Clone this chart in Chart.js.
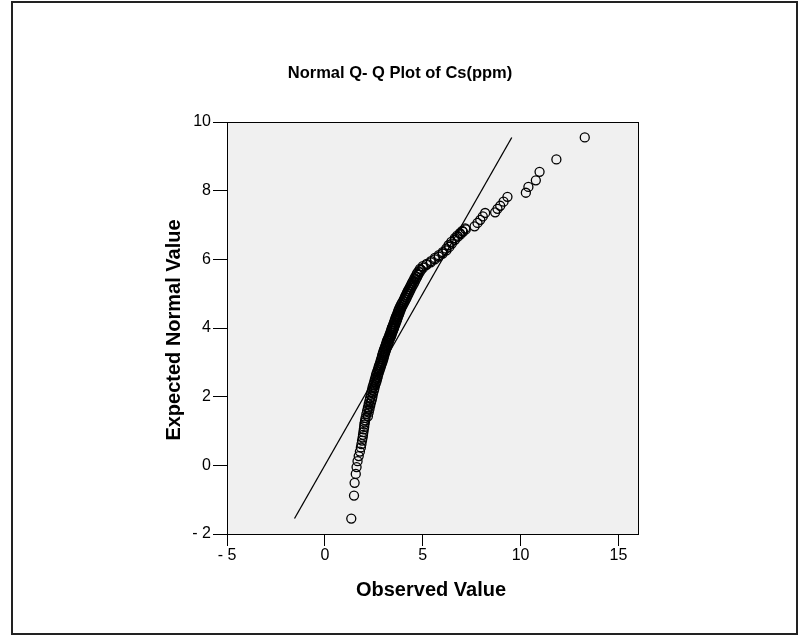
<!DOCTYPE html>
<html>
<head>
<meta charset="utf-8">
<title>Normal Q-Q Plot of Cs(ppm)</title>
<script src="https://cdn.jsdelivr.net/npm/chart.js@4.4.1/dist/chart.umd.min.js"></script>
<style>
  html, body { margin: 0; padding: 0; background: #fff; }
  #wrap { position: relative; width: 805px; height: 640px; }
</style>
</head>
<body>
<div id="wrap"><canvas id="qqChart" width="805" height="640"></canvas></div>
<script>
// Lower tail (sparse circles below the band)
const expectedLow = [-1.55, -0.88, -0.51, -0.25, -0.05, 0.12, 0.27, 0.40, 0.52, 0.62, 0.72, 0.81, 0.89, 0.97, 1.05, 1.12, 1.19, 1.25, 1.31];
const observedLow = [1.35, 1.49, 1.52, 1.58, 1.62, 1.67, 1.73, 1.79, 1.84, 1.87, 1.90, 1.93, 1.95, 1.97, 1.99, 2.01, 2.02, 2.04, 2.06];

// Dense band in the middle (left edge of the band)
const expectedBand = [1.38, 1.49, 1.59, 1.69, 1.79, 1.88, 1.96, 2.05, 2.13, 2.20, 2.28, 2.35, 2.42, 2.49, 2.55, 2.62, 2.68, 2.74, 2.80, 2.87,
  2.92, 2.98, 3.04, 3.09, 3.15, 3.20, 3.26, 3.31, 3.37, 3.42, 3.47, 3.52, 3.58, 3.63, 3.68, 3.73, 3.78, 3.83, 3.89, 3.94, 3.99,
  4.01, 4.06, 4.11, 4.17, 4.22, 4.27, 4.32, 4.37, 4.42, 4.48, 4.53, 4.58, 4.63, 4.69, 4.74, 4.80, 4.85, 4.91, 4.96, 5.02,
  5.08, 5.13, 5.20, 5.26, 5.32, 5.38, 5.45, 5.51, 5.58, 5.65, 5.72, 5.80, 5.87, 5.95, 6.04, 6.12, 6.21, 6.31, 6.41, 6.51,
  6.62, 6.69, 6.76, 6.83, 6.90];
const observedBand = [2.08, 2.12, 2.16, 2.20, 2.24, 2.28, 2.31, 2.34, 2.38, 2.41, 2.44, 2.48, 2.52, 2.55, 2.58, 2.61, 2.64, 2.68, 2.72, 2.75,
  2.78, 2.82, 2.85, 2.88, 2.91, 2.93, 2.96, 2.99, 3.02, 3.06, 3.09, 3.12, 3.15, 3.18, 3.22, 3.26, 3.29, 3.32, 3.36, 3.39, 3.42,
  3.43, 3.47, 3.50, 3.54, 3.57, 3.60, 3.63, 3.67, 3.70, 3.74, 3.77, 3.81, 3.85, 3.90, 3.95, 4.01, 4.05, 4.10, 4.14, 4.19,
  4.24, 4.29, 4.35, 4.41, 4.46, 4.52, 4.58, 4.64, 4.70, 4.78, 4.86, 5.00, 5.20, 5.42, 5.62, 5.82, 6.02, 6.20, 6.32, 6.46,
  6.64, 6.76, 6.90, 7.02, 7.17];

// Dense band, in-between cases (right edge of the band)
const expectedBand2 = [1.43, 1.54, 1.64, 1.74, 1.84, 1.92, 2.00, 2.09, 2.17, 2.24, 2.32, 2.38, 2.45, 2.52, 2.58, 2.65, 2.71, 2.77, 2.84, 2.90,
  2.95, 3.01, 3.07, 3.12, 3.18, 3.23, 3.29, 3.34, 3.40, 3.45, 3.50, 3.55, 3.61, 3.66, 3.71, 3.76, 3.81, 3.86, 3.92, 3.97,
  4.00, 4.04, 4.09, 4.14, 4.20, 4.25, 4.30, 4.35, 4.40, 4.45, 4.51, 4.56, 4.61, 4.66, 4.72, 4.77, 4.83, 4.88, 4.94, 4.99,
  5.05, 5.11, 5.17, 5.23, 5.29, 5.35, 5.42, 5.48, 5.55, 5.62, 5.69, 5.76, 5.84, 5.91, 6.00, 6.08, 6.17, 6.26, 6.36, 6.46,
  6.57, 6.66, 6.73, 6.80, 6.87];
const observedBand2 = [2.20, 2.24, 2.28, 2.32, 2.36, 2.40, 2.43, 2.46, 2.50, 2.53, 2.56, 2.60, 2.64, 2.67, 2.70, 2.73, 2.76, 2.80, 2.84, 2.87,
  2.90, 2.94, 2.97, 3.00, 3.02, 3.05, 3.08, 3.11, 3.14, 3.18, 3.21, 3.24, 3.27, 3.30, 3.34, 3.38, 3.41, 3.44, 3.48, 3.51,
  3.53, 3.55, 3.59, 3.62, 3.66, 3.69, 3.72, 3.75, 3.79, 3.82, 3.86, 3.89, 3.93, 3.98, 4.03, 4.08, 4.13, 4.18, 4.22, 4.27,
  4.32, 4.37, 4.42, 4.48, 4.54, 4.59, 4.65, 4.71, 4.77, 4.84, 4.92, 5.03, 5.20, 5.41, 5.62, 5.82, 6.02, 6.21, 6.36, 6.49,
  6.65, 6.80, 6.93, 7.06, 7.20];

// Upper tail (the long right-hand stragglers)
const expectedHigh = [6.96, 7.06, 7.15, 7.25, 7.35, 7.37, 7.47, 7.56, 7.68, 7.82, 7.94, 8.11, 8.30, 8.55, 8.91, 9.55];
const observedHigh = [7.65, 7.80, 7.94, 8.07, 8.19, 8.70, 8.82, 8.96, 9.13, 9.33, 10.27, 10.40, 10.78, 10.97, 11.83, 13.28];

// Reference line y = x between the smallest and largest expected value
const refLine = [-1.55, 9.55];

const xRange = [-5, 16];
const yRange = [-2, 10];

const FONT = '"Liberation Sans", Arial, Helvetica, sans-serif';

function pairUp(xs, ys) {
  return xs.map((x, i) => ({ x: x, y: ys[i] }));
}

const points = [].concat(
  pairUp(observedLow, expectedLow),
  pairUp(observedBand, expectedBand),
  pairUp(observedBand2, expectedBand2),
  pairUp(observedHigh, expectedHigh)
);

// negative ticks are written "- 5", like the old SPSS output
function tickText(v) {
  return v < 0 ? '- ' + Math.abs(v) : String(v);
}

const framePlugin = {
  id: 'qqFrame',
  beforeDraw(chart) {
    const ctx = chart.ctx;
    const a = chart.chartArea;
    ctx.save();
    ctx.fillStyle = '#ffffff';
    ctx.fillRect(0, 0, chart.width, chart.height);
    ctx.fillStyle = '#f0f0f0';
    ctx.fillRect(a.left, a.top, a.right - a.left, a.bottom - a.top);
    ctx.restore();
  },
  afterDraw(chart) {
    const ctx = chart.ctx;
    const a = chart.chartArea;
    ctx.save();
    // plot box
    ctx.strokeStyle = '#000';
    ctx.lineWidth = 1;
    ctx.strokeRect(a.left + 0.5, a.top + 0.5, a.right - a.left, a.bottom - a.top);
    // outer frame
    ctx.strokeStyle = '#222';
    ctx.lineWidth = 2;
    ctx.strokeRect(12, 2, 785, 632);

    ctx.fillStyle = '#000';
    ctx.textAlign = 'center';
    ctx.textBaseline = 'alphabetic';
    ctx.font = 'bold 16.5px ' + FONT;
    ctx.fillText('Normal Q- Q Plot of Cs(ppm)', 400, 78);

    ctx.font = 'bold 20px ' + FONT;
    ctx.fillText('Observed Value', 431, 596);

    ctx.translate(180, 330);
    ctx.rotate(-Math.PI / 2);
    ctx.fillText('Expected Normal Value', 0, 0);
    ctx.restore();
  }
};

new Chart(document.getElementById('qqChart').getContext('2d'), {
  type: 'scatter',
  data: {
    datasets: [
      {
        label: 'Observed',
        data: points,
        pointStyle: 'circle',
        pointRadius: 4.5,
        pointBorderWidth: 1.3,
        pointBorderColor: '#000',
        pointBackgroundColor: 'rgba(0,0,0,0)',
        order: 1
      },
      {
        label: 'Reference',
        data: refLine.map(v => ({ x: v, y: v })),
        showLine: true,
        borderColor: '#000',
        borderWidth: 1.3,
        pointRadius: 0,
        order: 2
      }
    ]
  },
  options: {
    responsive: false,
    animation: false,
    devicePixelRatio: 1,
    layout: { padding: { left: 0, right: 167, top: 122, bottom: 0 } },
    plugins: {
      legend: { display: false },
      tooltip: { enabled: false },
      title: { display: false }
    },
    scales: {
      x: {
        type: 'linear',
        position: 'bottom',
        min: xRange[0],
        max: xRange[1],
        afterFit(scale) { scale.height = 106; },
        ticks: {
          stepSize: 5,
          includeBounds: false,
          autoSkip: false,
          maxRotation: 0,
          padding: 0,
          color: '#000',
          font: { family: FONT, size: 16 },
          callback: tickText
        },
        grid: { drawOnChartArea: false, tickLength: 12, color: '#000', lineWidth: 1 },
        border: { display: true, color: '#000', width: 1 }
      },
      y: {
        type: 'linear',
        min: yRange[0],
        max: yRange[1],
        afterFit(scale) { scale.width = 227; },
        ticks: {
          stepSize: 2,
          includeBounds: false,
          autoSkip: false,
          padding: 2,
          color: '#000',
          font: { family: FONT, size: 16 },
          callback: tickText
        },
        grid: { drawOnChartArea: false, tickLength: 14, color: '#000', lineWidth: 1 },
        border: { display: true, color: '#000', width: 1 }
      }
    }
  },
  plugins: [framePlugin]
});
</script>
</body>
</html>
